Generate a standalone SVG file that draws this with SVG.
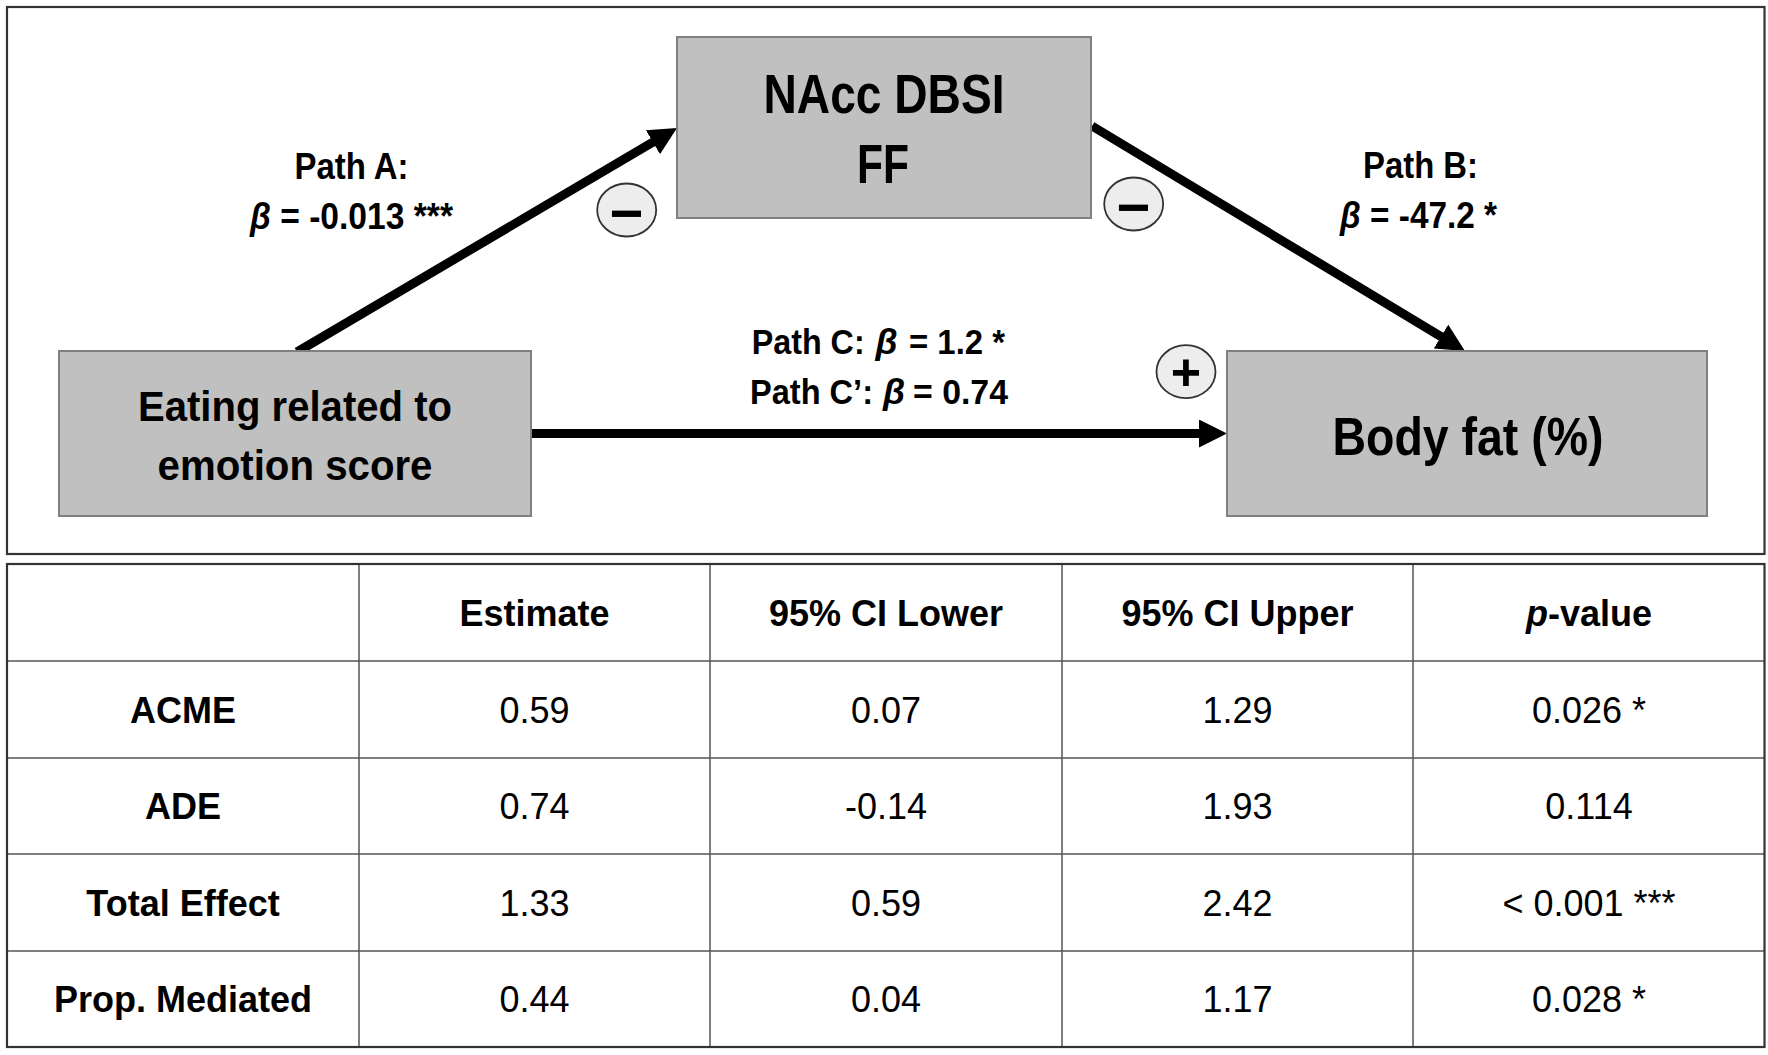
<svg xmlns="http://www.w3.org/2000/svg" width="1768" height="1055" viewBox="0 0 1768 1055">
<style>
.box{fill:#c0c0c0;stroke:#808080;stroke-width:2}
.lbl{font-family:"Liberation Sans Narrow","Liberation Sans",Arial,sans-serif;font-weight:bold;fill:#000;text-anchor:middle}
.lbs{font-family:"Liberation Sans Narrow","Liberation Sans",Arial,sans-serif;font-weight:bold;fill:#000;text-anchor:start;font-size:35.5px}
.conn{stroke:#000;stroke-width:9;fill:none}
.sign{fill:#ededed;stroke:#333;stroke-width:1.8}
.sym{font-family:"Liberation Sans",Arial,sans-serif;font-weight:bold;fill:#000;text-anchor:middle}
.th{font-family:"Liberation Sans",Arial,sans-serif;font-weight:bold;font-size:36px;fill:#000;text-anchor:middle}
.td{font-family:"Liberation Sans",Arial,sans-serif;font-size:36px;fill:#000;text-anchor:middle}
.grid{stroke:#555;stroke-width:1.5}
.frame{fill:none;stroke:#333;stroke-width:2.2}
.it{font-style:italic}
</style>
<defs>
<marker id="head" markerUnits="userSpaceOnUse" markerWidth="30" markerHeight="30" refX="2" refY="14" orient="auto">
<path d="M0,0 L28,14 L0,28 z" fill="#000"/>
</marker>
</defs>
<rect width="1768" height="1055" fill="#fff"/>
<rect class="frame" x="7" y="7" width="1757.5" height="547"/>

<g id="connectors">
<line class="conn" x1="297" y1="352" x2="654.6" y2="141.2" marker-end="url(#head)"/>
<line class="conn" x1="1092" y1="126" x2="1442.7" y2="337.6" marker-end="url(#head)"/>
<line class="conn" x1="531" y1="433.5" x2="1201" y2="433.5" marker-end="url(#head)"/>
<g id="label-path-a">
<text class="lbl" font-size="37" x="351.5" y="178.6" textLength="114" lengthAdjust="spacingAndGlyphs">Path A:</text>
<text class="lbl" font-size="37" x="351.5" y="228.6" textLength="203" lengthAdjust="spacingAndGlyphs"><tspan class="it">β</tspan> = -0.013 ***</text>
</g>
<g id="label-path-b">
<text class="lbl" font-size="37" x="1420.5" y="177.7" textLength="115" lengthAdjust="spacingAndGlyphs">Path B:</text>
<text class="lbl" font-size="37" x="1418.6" y="228" textLength="157" lengthAdjust="spacingAndGlyphs"><tspan class="it">β</tspan> = -47.2 *</text>
</g>
<g id="label-path-c">
<text class="lbs" x="751.7" y="353.5" textLength="113" lengthAdjust="spacingAndGlyphs">Path C:</text>
<text class="lbl it" font-size="35.5" x="886.5" y="353.5">β</text>
<text class="lbs" x="909" y="353.5" textLength="96" lengthAdjust="spacingAndGlyphs">= 1.2 *</text>
<text class="lbs" x="750" y="403.5" textLength="123" lengthAdjust="spacingAndGlyphs">Path C’:</text>
<text class="lbl it" font-size="35.5" x="894" y="403.5">β</text>
<text class="lbs" x="913" y="403.5" textLength="95" lengthAdjust="spacingAndGlyphs">= 0.74</text>
</g>
<g id="sign-a">
<ellipse class="sign" cx="626.7" cy="210" rx="29.5" ry="26.5"/>
<text class="sym" font-size="58" x="626.7" y="233">−</text>
</g>
<g id="sign-b">
<ellipse class="sign" cx="1133.7" cy="204" rx="29.5" ry="26.5"/>
<text class="sym" font-size="58" x="1133.7" y="227">−</text>
</g>
<g id="sign-c">
<ellipse class="sign" cx="1186" cy="371.7" rx="29.5" ry="26.5"/>
<text class="sym" font-size="52" x="1186" y="390">+</text>
</g>
</g>

<g id="node-nacc">
<rect class="box" x="677" y="37" width="414" height="181"/>
<text class="lbl" font-size="55" x="884" y="113" textLength="241" lengthAdjust="spacingAndGlyphs">NAcc DBSI</text>
<text class="lbl" font-size="55" x="883" y="182.7" textLength="52" lengthAdjust="spacingAndGlyphs">FF</text>
</g>
<g id="node-eating">
<rect class="box" x="59" y="351" width="472" height="165"/>
<text class="lbl" font-size="43" x="295" y="421.4" textLength="314" lengthAdjust="spacingAndGlyphs">Eating related to</text>
<text class="lbl" font-size="43" x="295" y="480.4" textLength="275" lengthAdjust="spacingAndGlyphs">emotion score</text>
</g>
<g id="node-bodyfat">
<rect class="box" x="1227" y="351" width="480" height="165"/>
<text class="lbl" font-size="54" x="1468" y="455" textLength="271" lengthAdjust="spacingAndGlyphs">Body fat (%)</text>
</g>

<g id="table">
<line class="grid" x1="7" y1="661" x2="1765" y2="661"/>
<line class="grid" x1="7" y1="758" x2="1765" y2="758"/>
<line class="grid" x1="7" y1="854" x2="1765" y2="854"/>
<line class="grid" x1="7" y1="951" x2="1765" y2="951"/>
<line class="grid" x1="359" y1="564" x2="359" y2="1047"/>
<line class="grid" x1="710" y1="564" x2="710" y2="1047"/>
<line class="grid" x1="1062" y1="564" x2="1062" y2="1047"/>
<line class="grid" x1="1413" y1="564" x2="1413" y2="1047"/>
<rect class="frame" x="7" y="564" width="1757.5" height="483" stroke-width="2.6"/>

<text class="th" x="534.5" y="625.5">Estimate</text>
<text class="th" x="886" y="625.5">95% CI Lower</text>
<text class="th" x="1237.5" y="625.5">95% CI Upper</text>
<text class="th" x="1589" y="625.5"><tspan class="it">p</tspan>-value</text>

<text class="th" x="183" y="722.5">ACME</text>
<text class="td" x="534.5" y="722.5">0.59</text>
<text class="td" x="886" y="722.5">0.07</text>
<text class="td" x="1237.5" y="722.5">1.29</text>
<text class="td" x="1589" y="722.5">0.026 *</text>

<text class="th" x="183" y="819">ADE</text>
<text class="td" x="534.5" y="819">0.74</text>
<text class="td" x="886" y="819">-0.14</text>
<text class="td" x="1237.5" y="819">1.93</text>
<text class="td" x="1589" y="819">0.114</text>

<text class="th" x="183" y="915.5">Total Effect</text>
<text class="td" x="534.5" y="915.5">1.33</text>
<text class="td" x="886" y="915.5">0.59</text>
<text class="td" x="1237.5" y="915.5">2.42</text>
<text class="td" x="1589" y="915.5">&lt; 0.001 ***</text>

<text class="th" x="183" y="1012">Prop. Mediated</text>
<text class="td" x="534.5" y="1012">0.44</text>
<text class="td" x="886" y="1012">0.04</text>
<text class="td" x="1237.5" y="1012">1.17</text>
<text class="td" x="1589" y="1012">0.028 *</text>
</g>
</svg>
